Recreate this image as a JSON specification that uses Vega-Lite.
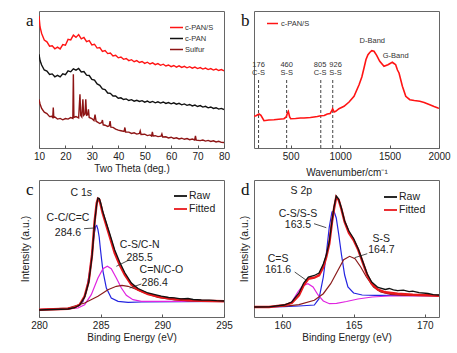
{
"$schema":"https://vega.github.io/schema/vega-lite/v6.json",
"padding":{"left":19,"top":10,"right":0,"bottom":0},
"background":"white",
"config":{
 "view":{"stroke":"#666","strokeWidth":1},
 "font":"Liberation Sans",
 "axis":{"labelFont":"Liberation Sans","titleFont":"Liberation Sans","labelFontSize":10,"titleFontSize":10.5,"titleFontWeight":"normal","grid":false,"domain":false,"tickColor":"#555","labelColor":"#222","titleColor":"#222","labelFlush":false,"labelOverlap":false,"format":"d"},
 "title":{"font":"Liberation Serif","fontSize":17,"fontWeight":"normal","anchor":"start","frame":"group","color":"#111"},
 "legend":{"labelFont":"Liberation Sans","labelColor":"#333","padding":0}
},
"datasets":{
 "xrd":[
  {"s":"c-PAN/S","t":10,"h":132},{"s":"c-PAN/S","t":10.4,"h":121},{"s":"c-PAN/S","t":11,"h":114.5},{"s":"c-PAN/S","t":12,"h":108},{"s":"c-PAN/S","t":13,"h":106.2},{"s":"c-PAN/S","t":14,"h":101.8},{"s":"c-PAN/S","t":15,"h":102.3},{"s":"c-PAN/S","t":16,"h":99.2},{"s":"c-PAN/S","t":17,"h":100.9},{"s":"c-PAN/S","t":18,"h":99.1},{"s":"c-PAN/S","t":19,"h":103.4},{"s":"c-PAN/S","t":20,"h":102.8},{"s":"c-PAN/S","t":21,"h":108.6},{"s":"c-PAN/S","t":22,"h":108.1},{"s":"c-PAN/S","t":23,"h":112.9},{"s":"c-PAN/S","t":24,"h":110.6},{"s":"c-PAN/S","t":25,"h":113.4},{"s":"c-PAN/S","t":26,"h":109.1},{"s":"c-PAN/S","t":27,"h":110.5},{"s":"c-PAN/S","t":28,"h":106.4},{"s":"c-PAN/S","t":29,"h":107.3},{"s":"c-PAN/S","t":30,"h":103.1},{"s":"c-PAN/S","t":31,"h":103.8},{"s":"c-PAN/S","t":32,"h":99.9},{"s":"c-PAN/S","t":33,"h":100.4},{"s":"c-PAN/S","t":34,"h":96.6},{"s":"c-PAN/S","t":35,"h":97.4},{"s":"c-PAN/S","t":36,"h":94.4},{"s":"c-PAN/S","t":37,"h":95.0},{"s":"c-PAN/S","t":38,"h":92.1},{"s":"c-PAN/S","t":39,"h":92.8},{"s":"c-PAN/S","t":40,"h":90.2},{"s":"c-PAN/S","t":41,"h":91.0},{"s":"c-PAN/S","t":42,"h":88.7},{"s":"c-PAN/S","t":43,"h":89.5},{"s":"c-PAN/S","t":44,"h":87.4},{"s":"c-PAN/S","t":45,"h":88.3},{"s":"c-PAN/S","t":46,"h":86.3},{"s":"c-PAN/S","t":47,"h":87.4},{"s":"c-PAN/S","t":48,"h":85.5},{"s":"c-PAN/S","t":49,"h":86.5},{"s":"c-PAN/S","t":50,"h":84.6},{"s":"c-PAN/S","t":51,"h":85.8},{"s":"c-PAN/S","t":52,"h":84.0},{"s":"c-PAN/S","t":53,"h":85.1},{"s":"c-PAN/S","t":54,"h":83.3},{"s":"c-PAN/S","t":55,"h":84.4},{"s":"c-PAN/S","t":56,"h":82.7},{"s":"c-PAN/S","t":57,"h":83.8},{"s":"c-PAN/S","t":58,"h":82.0},{"s":"c-PAN/S","t":59,"h":83.0},{"s":"c-PAN/S","t":60,"h":81.3},{"s":"c-PAN/S","t":61,"h":82.5},{"s":"c-PAN/S","t":62,"h":80.9},{"s":"c-PAN/S","t":63,"h":82.1},{"s":"c-PAN/S","t":64,"h":80.6},{"s":"c-PAN/S","t":65,"h":81.7},{"s":"c-PAN/S","t":66,"h":80.2},{"s":"c-PAN/S","t":67,"h":81.3},{"s":"c-PAN/S","t":68,"h":79.8},{"s":"c-PAN/S","t":69,"h":80.9},{"s":"c-PAN/S","t":70,"h":79.4},{"s":"c-PAN/S","t":71,"h":80.4},{"s":"c-PAN/S","t":72,"h":78.9},{"s":"c-PAN/S","t":73,"h":79.9},{"s":"c-PAN/S","t":74,"h":78.4},{"s":"c-PAN/S","t":75,"h":79.4},{"s":"c-PAN/S","t":76,"h":77.9},{"s":"c-PAN/S","t":77,"h":78.9},{"s":"c-PAN/S","t":78,"h":77.5},{"s":"c-PAN/S","t":79,"h":78.4},{"s":"c-PAN/S","t":80,"h":77.2},
  {"s":"c-PAN","t":10,"h":93.7},{"s":"c-PAN","t":10.4,"h":87.5},{"s":"c-PAN","t":11,"h":83},{"s":"c-PAN","t":12,"h":78},{"s":"c-PAN","t":13,"h":76.9},{"s":"c-PAN","t":14,"h":73.6},{"s":"c-PAN","t":15,"h":74.1},{"s":"c-PAN","t":16,"h":71.2},{"s":"c-PAN","t":17,"h":72.6},{"s":"c-PAN","t":18,"h":71.1},{"s":"c-PAN","t":19,"h":74.2},{"s":"c-PAN","t":20,"h":73.4},{"s":"c-PAN","t":21,"h":77.1},{"s":"c-PAN","t":22,"h":76.2},{"s":"c-PAN","t":23,"h":79.1},{"s":"c-PAN","t":24,"h":77.8},{"s":"c-PAN","t":25,"h":79.5},{"s":"c-PAN","t":26,"h":76.1},{"s":"c-PAN","t":27,"h":76.4},{"s":"c-PAN","t":28,"h":72.8},{"s":"c-PAN","t":29,"h":72.5},{"s":"c-PAN","t":30,"h":68.6},{"s":"c-PAN","t":31,"h":67.8},{"s":"c-PAN","t":32,"h":64.0},{"s":"c-PAN","t":33,"h":62.7},{"s":"c-PAN","t":34,"h":59.1},{"s":"c-PAN","t":35,"h":58.4},{"s":"c-PAN","t":36,"h":55.0},{"s":"c-PAN","t":37,"h":54.7},{"s":"c-PAN","t":38,"h":52.0},{"s":"c-PAN","t":39,"h":52.1},{"s":"c-PAN","t":40,"h":49.7},{"s":"c-PAN","t":41,"h":50.2},{"s":"c-PAN","t":42,"h":48.5},{"s":"c-PAN","t":43,"h":49.1},{"s":"c-PAN","t":44,"h":47.5},{"s":"c-PAN","t":45,"h":48.3},{"s":"c-PAN","t":46,"h":46.8},{"s":"c-PAN","t":47,"h":47.7},{"s":"c-PAN","t":48,"h":46.5},{"s":"c-PAN","t":49,"h":47.3},{"s":"c-PAN","t":50,"h":45.8},{"s":"c-PAN","t":51,"h":46.9},{"s":"c-PAN","t":52,"h":45.5},{"s":"c-PAN","t":53,"h":46.6},{"s":"c-PAN","t":54,"h":45.2},{"s":"c-PAN","t":55,"h":46.2},{"s":"c-PAN","t":56,"h":44.9},{"s":"c-PAN","t":57,"h":46.0},{"s":"c-PAN","t":58,"h":44.6},{"s":"c-PAN","t":59,"h":45.5},{"s":"c-PAN","t":60,"h":44.2},{"s":"c-PAN","t":61,"h":45.2},{"s":"c-PAN","t":62,"h":43.8},{"s":"c-PAN","t":63,"h":44.7},{"s":"c-PAN","t":64,"h":43.2},{"s":"c-PAN","t":65,"h":44.1},{"s":"c-PAN","t":66,"h":42.7},{"s":"c-PAN","t":67,"h":43.5},{"s":"c-PAN","t":68,"h":42.1},{"s":"c-PAN","t":69,"h":42.9},{"s":"c-PAN","t":70,"h":41.5},{"s":"c-PAN","t":71,"h":42.4},{"s":"c-PAN","t":72,"h":40.9},{"s":"c-PAN","t":73,"h":41.7},{"s":"c-PAN","t":74,"h":40.2},{"s":"c-PAN","t":75,"h":41.0},{"s":"c-PAN","t":76,"h":39.6},{"s":"c-PAN","t":77,"h":40.3},{"s":"c-PAN","t":78,"h":38.9},{"s":"c-PAN","t":79,"h":39.6},{"s":"c-PAN","t":80,"h":38.4},
  {"s":"Sulfur","t":10,"h":48.7},{"s":"Sulfur","t":10.4,"h":44},{"s":"Sulfur","t":11,"h":39.5},{"s":"Sulfur","t":12,"h":35.8},{"s":"Sulfur","t":13,"h":34.5},{"s":"Sulfur","t":14,"h":31.4},{"s":"Sulfur","t":14.8,"h":31.8},{"s":"Sulfur","t":15.2,"h":30.5},{"s":"Sulfur","t":15.4,"h":40.5},{"s":"Sulfur","t":15.6,"h":30.8},{"s":"Sulfur","t":16,"h":31.0},{"s":"Sulfur","t":17,"h":28.9},{"s":"Sulfur","t":18,"h":29.6},{"s":"Sulfur","t":19,"h":28.2},{"s":"Sulfur","t":20,"h":29.5},{"s":"Sulfur","t":21,"h":28.9},{"s":"Sulfur","t":22,"h":30.4},{"s":"Sulfur","t":22.8,"h":29.6},{"s":"Sulfur","t":23.0,"h":73.7},{"s":"Sulfur","t":23.2,"h":30.6},{"s":"Sulfur","t":24,"h":31.5},{"s":"Sulfur","t":25,"h":30.2},{"s":"Sulfur","t":25.5,"h":53.7},{"s":"Sulfur","t":25.8,"h":32.5},{"s":"Sulfur","t":26.2,"h":31.0},{"s":"Sulfur","t":26.6,"h":48.7},{"s":"Sulfur","t":26.9,"h":32.6},{"s":"Sulfur","t":27.4,"h":34.0},{"s":"Sulfur","t":27.7,"h":48.7},{"s":"Sulfur","t":28.0,"h":32.8},{"s":"Sulfur","t":28.4,"h":33.2},{"s":"Sulfur","t":28.7,"h":38.7},{"s":"Sulfur","t":29.0,"h":30.5},{"s":"Sulfur","t":30,"h":29.5},{"s":"Sulfur","t":30.8,"h":27.5},{"s":"Sulfur","t":31.2,"h":33.5},{"s":"Sulfur","t":31.6,"h":26.8},{"s":"Sulfur","t":32,"h":26.2},{"s":"Sulfur","t":33,"h":24.5},{"s":"Sulfur","t":33.7,"h":25.4},{"s":"Sulfur","t":34.0,"h":28.0},{"s":"Sulfur","t":34.3,"h":23.2},{"s":"Sulfur","t":35,"h":22.8},{"s":"Sulfur","t":36,"h":21.5},{"s":"Sulfur","t":36.6,"h":22.3},{"s":"Sulfur","t":36.9,"h":27.0},{"s":"Sulfur","t":37.2,"h":20.8},{"s":"Sulfur","t":38,"h":20.6},{"s":"Sulfur","t":39,"h":18.9},{"s":"Sulfur","t":40,"h":17.8},{"s":"Sulfur","t":41,"h":17.2},{"s":"Sulfur","t":42.2,"h":16.5},{"s":"Sulfur","t":42.5,"h":20.5},{"s":"Sulfur","t":42.8,"h":16.0},{"s":"Sulfur","t":44,"h":15.9},{"s":"Sulfur","t":45,"h":14.6},{"s":"Sulfur","t":46,"h":15.2},{"s":"Sulfur","t":47,"h":13.9},{"s":"Sulfur","t":48,"h":14.5},{"s":"Sulfur","t":48.3,"h":17.0},{"s":"Sulfur","t":48.6,"h":13.6},{"s":"Sulfur","t":50,"h":13.8},{"s":"Sulfur","t":51,"h":12.4},{"s":"Sulfur","t":52,"h":13.1},{"s":"Sulfur","t":52.6,"h":12.0},{"s":"Sulfur","t":52.9,"h":16.0},{"s":"Sulfur","t":53.2,"h":12.1},{"s":"Sulfur","t":54,"h":12.3},{"s":"Sulfur","t":55,"h":11.4},{"s":"Sulfur","t":56.2,"h":11.9},{"s":"Sulfur","t":56.5,"h":14.0},{"s":"Sulfur","t":56.8,"h":11.0},{"s":"Sulfur","t":58,"h":11.2},{"s":"Sulfur","t":59,"h":10.1},{"s":"Sulfur","t":60,"h":10.8},{"s":"Sulfur","t":61,"h":9.6},{"s":"Sulfur","t":62,"h":10.2},{"s":"Sulfur","t":63,"h":9.1},{"s":"Sulfur","t":64,"h":9.8},{"s":"Sulfur","t":65,"h":8.7},{"s":"Sulfur","t":66,"h":9.4},{"s":"Sulfur","t":67,"h":8.3},{"s":"Sulfur","t":68,"h":9.0},{"s":"Sulfur","t":68.9,"h":8.0},{"s":"Sulfur","t":69.2,"h":12.0},{"s":"Sulfur","t":69.5,"h":7.9},{"s":"Sulfur","t":71,"h":7.4},{"s":"Sulfur","t":72,"h":8.0},{"s":"Sulfur","t":73,"h":6.9},{"s":"Sulfur","t":74,"h":7.6},{"s":"Sulfur","t":75,"h":6.6},{"s":"Sulfur","t":76,"h":7.2},{"s":"Sulfur","t":77,"h":6.1},{"s":"Sulfur","t":78,"h":6.7},{"s":"Sulfur","t":79,"h":5.6},{"s":"Sulfur","t":80,"h":5.5}
 ],
 "raman":[
  {"s":"c-PAN/S","w":130,"h":31.7},{"s":"c-PAN/S","w":150,"h":32.3},{"s":"c-PAN/S","w":181,"h":34},{"s":"c-PAN/S","w":200,"h":32.7},{"s":"c-PAN/S","w":231,"h":27.3},{"s":"c-PAN/S","w":280,"h":28.0},{"s":"c-PAN/S","w":332,"h":28.3},{"s":"c-PAN/S","w":380,"h":28.8},{"s":"c-PAN/S","w":433,"h":29.3},{"s":"c-PAN/S","w":455,"h":31},{"s":"c-PAN/S","w":470,"h":35.5},{"s":"c-PAN/S","w":477,"h":36.7},{"s":"c-PAN/S","w":490,"h":31},{"s":"c-PAN/S","w":501,"h":29.3},{"s":"c-PAN/S","w":550,"h":29.5},{"s":"c-PAN/S","w":600,"h":30},{"s":"c-PAN/S","w":636,"h":30},{"s":"c-PAN/S","w":700,"h":30.5},{"s":"c-PAN/S","w":737,"h":31},{"s":"c-PAN/S","w":770,"h":31.5},{"s":"c-PAN/S","w":804,"h":32.3},{"s":"c-PAN/S","w":840,"h":32.5},{"s":"c-PAN/S","w":871,"h":34},{"s":"c-PAN/S","w":900,"h":34.5},{"s":"c-PAN/S","w":915,"h":37},{"s":"c-PAN/S","w":925,"h":39.3},{"s":"c-PAN/S","w":940,"h":36},{"s":"c-PAN/S","w":956,"h":36.7},{"s":"c-PAN/S","w":989,"h":39.3},{"s":"c-PAN/S","w":1040,"h":41.7},{"s":"c-PAN/S","w":1091,"h":46},{"s":"c-PAN/S","w":1141,"h":51.7},{"s":"c-PAN/S","w":1192,"h":63.3},{"s":"c-PAN/S","w":1220,"h":71},{"s":"c-PAN/S","w":1242,"h":80},{"s":"c-PAN/S","w":1262,"h":88.5},{"s":"c-PAN/S","w":1282,"h":93.3},{"s":"c-PAN/S","w":1300,"h":95.5},{"s":"c-PAN/S","w":1320,"h":97.3},{"s":"c-PAN/S","w":1343,"h":96.7},{"s":"c-PAN/S","w":1370,"h":92.7},{"s":"c-PAN/S","w":1401,"h":86.7},{"s":"c-PAN/S","w":1444,"h":81.7},{"s":"c-PAN/S","w":1484,"h":83.3},{"s":"c-PAN/S","w":1510,"h":84.8},{"s":"c-PAN/S","w":1528,"h":85.7},{"s":"c-PAN/S","w":1545,"h":84.5},{"s":"c-PAN/S","w":1562,"h":83.3},{"s":"c-PAN/S","w":1580,"h":78},{"s":"c-PAN/S","w":1596,"h":75},{"s":"c-PAN/S","w":1630,"h":61.7},{"s":"c-PAN/S","w":1664,"h":51.7},{"s":"c-PAN/S","w":1705,"h":48.3},{"s":"c-PAN/S","w":1750,"h":47.5},{"s":"c-PAN/S","w":1806,"h":46.7},{"s":"c-PAN/S","w":1850,"h":45.5},{"s":"c-PAN/S","w":1907,"h":43.3},{"s":"c-PAN/S","w":1950,"h":41.5},{"s":"c-PAN/S","w":1990,"h":40},{"s":"c-PAN/S","w":2000,"h":39.7}
 ],
 "ramanpk":[
  {"w":176,"lw":176,"n":"176","b":"C-S","top":68,"ny":83,"by":75},
  {"w":460,"lw":460,"n":"460","b":"S-S","top":68,"ny":83,"by":75},
  {"w":805,"lw":798,"n":"805","b":"C-S","top":68,"ny":83,"by":75},
  {"w":926,"lw":955,"n":"926","b":"S-S","top":68,"ny":83,"by":75}
 ],
 "ramanband":[
  {"w":1326,"h":107,"t":"D-Band"},{"w":1562,"h":92,"t":"G-Band"}
 ],
 "c1s":[
  {"s":"Fitted","e":280,"h":7.3},{"s":"Fitted","e":282.35,"h":8.3},{"s":"Fitted","e":282.89,"h":9.7},{"s":"Fitted","e":283.3,"h":12.3},{"s":"Fitted","e":283.7,"h":20.7},{"s":"Fitted","e":284.03,"h":35.7},{"s":"Fitted","e":284.3,"h":62.3},{"s":"Fitted","e":284.51,"h":95.7},{"s":"Fitted","e":284.68,"h":114},{"s":"Fitted","e":284.78,"h":118.3},{"s":"Fitted","e":284.89,"h":117.3},{"s":"Fitted","e":285.0,"h":112.3},{"s":"Fitted","e":285.16,"h":104},{"s":"Fitted","e":285.32,"h":97.3},{"s":"Fitted","e":285.73,"h":80.7},{"s":"Fitted","e":286.14,"h":64},{"s":"Fitted","e":286.54,"h":52.3},{"s":"Fitted","e":286.95,"h":42.3},{"s":"Fitted","e":287.49,"h":32.3},{"s":"Fitted","e":288.03,"h":27.3},{"s":"Fitted","e":288.84,"h":23},{"s":"Fitted","e":289.92,"h":19.7},{"s":"Fitted","e":291.0,"h":18},{"s":"Fitted","e":292.08,"h":17},{"s":"Fitted","e":293.16,"h":16.3},{"s":"Fitted","e":295,"h":15.7},
  {"s":"Raw","e":280,"h":7.0},{"s":"Raw","e":282.35,"h":8.0},{"s":"Raw","e":282.89,"h":9.3},{"s":"Raw","e":283.3,"h":12.0},{"s":"Raw","e":283.7,"h":20.0},{"s":"Raw","e":284.03,"h":34.5},{"s":"Raw","e":284.3,"h":60.5},{"s":"Raw","e":284.51,"h":94},{"s":"Raw","e":284.68,"h":113},{"s":"Raw","e":284.78,"h":119},{"s":"Raw","e":284.89,"h":118.5},{"s":"Raw","e":285.0,"h":114},{"s":"Raw","e":285.16,"h":106},{"s":"Raw","e":285.32,"h":99.5},{"s":"Raw","e":285.73,"h":83.5},{"s":"Raw","e":286.14,"h":67},{"s":"Raw","e":286.54,"h":55},{"s":"Raw","e":286.95,"h":44.5},{"s":"Raw","e":287.49,"h":34},{"s":"Raw","e":288.03,"h":28.5},{"s":"Raw","e":288.84,"h":24},{"s":"Raw","e":289.4,"h":22.3},{"s":"Raw","e":289.92,"h":20.8},{"s":"Raw","e":290.5,"h":19.5},{"s":"Raw","e":291.0,"h":19.2},{"s":"Raw","e":291.5,"h":18.2},{"s":"Raw","e":292.08,"h":18.5},{"s":"Raw","e":292.5,"h":17.5},{"s":"Raw","e":293.16,"h":17.0},{"s":"Raw","e":293.8,"h":16.8},{"s":"Raw","e":294.4,"h":16.3},{"s":"Raw","e":295,"h":16.0},
  {"s":"CC","e":280,"h":7.3},{"s":"CC","e":282.35,"h":8.0},{"s":"CC","e":283.16,"h":10.7},{"s":"CC","e":283.57,"h":15.7},{"s":"CC","e":283.84,"h":25.7},{"s":"CC","e":284.11,"h":45.7},{"s":"CC","e":284.25,"h":58},{"s":"CC","e":284.38,"h":72.3},{"s":"CC","e":284.48,"h":83},{"s":"CC","e":284.59,"h":90.7},{"s":"CC","e":284.68,"h":91.5},{"s":"CC","e":284.78,"h":87.3},{"s":"CC","e":284.88,"h":80},{"s":"CC","e":284.97,"h":69},{"s":"CC","e":285.08,"h":57},{"s":"CC","e":285.19,"h":45.7},{"s":"CC","e":285.46,"h":29},{"s":"CC","e":285.86,"h":19},{"s":"CC","e":286.41,"h":15.7},{"s":"CC","e":287.22,"h":14.7},{"s":"CC","e":288.3,"h":15.0},{"s":"CC","e":295,"h":15.7},
  {"s":"CS","e":280,"h":7.3},{"s":"CS","e":282.35,"h":8.0},{"s":"CS","e":283.16,"h":9.0},{"s":"CS","e":283.7,"h":12.3},{"s":"CS","e":284.24,"h":22.3},{"s":"CS","e":284.78,"h":39},{"s":"CS","e":285.19,"h":48.3},{"s":"CS","e":285.54,"h":50.7},{"s":"CS","e":285.86,"h":48.3},{"s":"CS","e":286.27,"h":39},{"s":"CS","e":286.68,"h":29},{"s":"CS","e":287.08,"h":21.7},{"s":"CS","e":287.62,"h":17.3},{"s":"CS","e":288.3,"h":15.7},{"s":"CS","e":295,"h":15.7},
  {"s":"CN","e":280,"h":7.3},{"s":"CN","e":282.35,"h":9.0},{"s":"CN","e":283.7,"h":14.0},{"s":"CN","e":284.78,"h":20.7},{"s":"CN","e":285.59,"h":27.3},{"s":"CN","e":286.27,"h":30.7},{"s":"CN","e":286.73,"h":31.7},{"s":"CN","e":287.22,"h":30.7},{"s":"CN","e":287.76,"h":28.3},{"s":"CN","e":288.57,"h":24},{"s":"CN","e":289.65,"h":19.7},{"s":"CN","e":291.0,"h":17},{"s":"CN","e":292.08,"h":16},{"s":"CN","e":295,"h":15.7}
 ],
 "c1slab":[
  {"e":283.43,"h":124,"t":"C 1s"},{"e":282.35,"h":99,"t":"C-C/C=C"},{"e":282.35,"h":84,"t":"284.6"},{"e":288.16,"h":72.3,"t":"C-S/C-N"},{"e":288.16,"h":59,"t":"285.5"},{"e":289.92,"h":47.3,"t":"C=N/C-O"},{"e":289.38,"h":34,"t":"286.4"}
 ],
 "c1sptr":[
  {"e":283.65,"h":88.3,"e2":284.46,"h2":89},{"e":287.35,"h":57.3,"e2":286.27,"h2":50.7},{"e":288.3,"h":33,"e2":287.35,"h2":29}
 ],
 "s2p":[
  {"s":"Fitted","e":158,"h":10},{"s":"Fitted","e":159.05,"h":10},{"s":"Fitted","e":160.11,"h":11.7},{"s":"Fitted","e":160.65,"h":14},{"s":"Fitted","e":161.16,"h":21.7},{"s":"Fitted","e":161.49,"h":31.7},{"s":"Fitted","e":161.82,"h":38.3},{"s":"Fitted","e":162.24,"h":39.3},{"s":"Fitted","e":162.57,"h":41.7},{"s":"Fitted","e":162.87,"h":50},{"s":"Fitted","e":163.08,"h":60},{"s":"Fitted","e":163.29,"h":73.3},{"s":"Fitted","e":163.48,"h":95},{"s":"Fitted","e":163.62,"h":108},{"s":"Fitted","e":163.78,"h":120},{"s":"Fitted","e":163.95,"h":117},{"s":"Fitted","e":164.14,"h":108},{"s":"Fitted","e":164.37,"h":95},{"s":"Fitted","e":164.67,"h":84},{"s":"Fitted","e":165.0,"h":77},{"s":"Fitted","e":165.33,"h":67},{"s":"Fitted","e":165.63,"h":55},{"s":"Fitted","e":165.96,"h":41.7},{"s":"Fitted","e":166.27,"h":33.3},{"s":"Fitted","e":166.71,"h":27.3},{"s":"Fitted","e":167.23,"h":24.7},{"s":"Fitted","e":168.09,"h":23.3},{"s":"Fitted","e":169.15,"h":22.3},{"s":"Fitted","e":170.22,"h":21.7},{"s":"Fitted","e":171,"h":21.3},
  {"s":"Raw","e":158,"h":10},{"s":"Raw","e":159.05,"h":10.2},{"s":"Raw","e":160.11,"h":12},{"s":"Raw","e":160.65,"h":15},{"s":"Raw","e":161.16,"h":24},{"s":"Raw","e":161.49,"h":34},{"s":"Raw","e":161.82,"h":40},{"s":"Raw","e":162.24,"h":41.5},{"s":"Raw","e":162.57,"h":44},{"s":"Raw","e":162.87,"h":53},{"s":"Raw","e":163.08,"h":62},{"s":"Raw","e":163.29,"h":75},{"s":"Raw","e":163.48,"h":96},{"s":"Raw","e":163.62,"h":110},{"s":"Raw","e":163.78,"h":121},{"s":"Raw","e":163.95,"h":118},{"s":"Raw","e":164.14,"h":109},{"s":"Raw","e":164.37,"h":96},{"s":"Raw","e":164.67,"h":86},{"s":"Raw","e":165.0,"h":78.5},{"s":"Raw","e":165.33,"h":68},{"s":"Raw","e":165.63,"h":56},{"s":"Raw","e":165.96,"h":43},{"s":"Raw","e":166.27,"h":35},{"s":"Raw","e":166.71,"h":29.5},{"s":"Raw","e":167.23,"h":27.5},{"s":"Raw","e":167.5,"h":28.5},{"s":"Raw","e":167.8,"h":27.2},{"s":"Raw","e":168.09,"h":26.3},{"s":"Raw","e":168.5,"h":26.8},{"s":"Raw","e":168.9,"h":25.3},{"s":"Raw","e":169.15,"h":25.8},{"s":"Raw","e":169.6,"h":24.3},{"s":"Raw","e":170.22,"h":23.5},{"s":"Raw","e":170.6,"h":22.4},{"s":"Raw","e":171,"h":22},
  {"s":"CSS","e":158,"h":10},{"s":"CSS","e":160.1,"h":10.3},{"s":"CSS","e":161.16,"h":11},{"s":"CSS","e":162.24,"h":12},{"s":"CSS","e":162.57,"h":18.3},{"s":"CSS","e":162.87,"h":40},{"s":"CSS","e":163.08,"h":63},{"s":"CSS","e":163.29,"h":90},{"s":"CSS","e":163.48,"h":105},{"s":"CSS","e":163.62,"h":106},{"s":"CSS","e":163.78,"h":99},{"s":"CSS","e":163.95,"h":83},{"s":"CSS","e":164.14,"h":63},{"s":"CSS","e":164.37,"h":42},{"s":"CSS","e":164.6,"h":30},{"s":"CSS","e":165.0,"h":24},{"s":"CSS","e":165.6,"h":22},{"s":"CSS","e":166.5,"h":21.7},{"s":"CSS","e":171,"h":21.3},
  {"s":"CeqS","e":158,"h":10},{"s":"CeqS","e":160.1,"h":10.7},{"s":"CeqS","e":160.65,"h":15},{"s":"CeqS","e":161.08,"h":25},{"s":"CeqS","e":161.4,"h":31},{"s":"CeqS","e":161.79,"h":33.3},{"s":"CeqS","e":162.15,"h":30},{"s":"CeqS","e":162.5,"h":22},{"s":"CeqS","e":162.87,"h":16},{"s":"CeqS","e":163.3,"h":13.3},{"s":"CeqS","e":163.8,"h":13.7},{"s":"CeqS","e":164.5,"h":15.5},{"s":"CeqS","e":165.3,"h":18},{"s":"CeqS","e":166.3,"h":20},{"s":"CeqS","e":167.5,"h":21},{"s":"CeqS","e":171,"h":21.3},
  {"s":"SS","e":158,"h":10},{"s":"SS","e":160.1,"h":10.7},{"s":"SS","e":161.16,"h":12.3},{"s":"SS","e":162.24,"h":16.7},{"s":"SS","e":162.87,"h":23.3},{"s":"SS","e":163.39,"h":33.3},{"s":"SS","e":163.9,"h":46.7},{"s":"SS","e":164.3,"h":57.3},{"s":"SS","e":164.72,"h":60.7},{"s":"SS","e":165.1,"h":58.3},{"s":"SS","e":165.5,"h":50},{"s":"SS","e":165.9,"h":40},{"s":"SS","e":166.4,"h":30},{"s":"SS","e":166.9,"h":25},{"s":"SS","e":167.6,"h":22.7},{"s":"SS","e":168.6,"h":21.7},{"s":"SS","e":171,"h":21.3}
 ],
 "s2plab":[
  {"e":161.33,"h":126,"t":"S 2p"},{"e":161.09,"h":103.3,"t":"C-S/S-S"},{"e":161.09,"h":91.7,"t":"163.5"},{"e":166.95,"h":78.3,"t":"S-S"},{"e":166.95,"h":66.7,"t":"164.7"},{"e":159.69,"h":58.3,"t":"C=S"},{"e":159.69,"h":46.7,"t":"161.6"}
 ],
 "s2pptr":[
  {"e":162.22,"h":93.3,"e2":163.08,"h2":89.3},{"e":165.96,"h":63.3,"e2":165.07,"h2":59.3},{"e":160.86,"h":45,"e2":161.68,"h2":36.7}
 ]
},
"columns":2,
"bounds":"flush",
"spacing":{"row":32,"column":30},
"resolve":{"scale":{"x":"independent","y":"independent","color":"independent"}},
"concat":[
 {
  "width":185,"height":137,
  "title":{"text":"a","dx":-13,"offset":-19},
  "data":{"name":"xrd"},
  "mark":{"type":"line","strokeWidth":1.4,"clip":true},
  "encoding":{
   "x":{"field":"t","type":"quantitative","scale":{"domain":[10,80],"nice":false,"zero":false},"axis":{"values":[10,20,30,40,50,60,70,80],"title":"Two Theta (deg.)","tickSize":-3,"labelPadding":6,"titlePadding":2,"titleFontSize":10}},
   "y":{"field":"h","type":"quantitative","scale":{"domain":[0,137],"nice":false},"axis":null},
   "color":{"field":"s","type":"nominal","scale":{"domain":["c-PAN/S","c-PAN","Sulfur"],"range":["#ff1414","#111111","#8e1515"]},
    "legend":{"orient":"none","legendX":130,"legendY":9,"direction":"vertical","title":null,"symbolType":"stroke","symbolSize":169,"symbolStrokeWidth":1.5,"labelFontSize":7.5,"rowPadding":-3,"labelOffset":1}}
  }
 },
 {
  "width":185,"height":137,
  "title":{"text":"b","dx":-13,"offset":-19},
  "layer":[
   {"data":{"name":"ramanpk"},"mark":{"type":"rule","strokeDash":[3,2],"color":"#444","strokeWidth":1},
    "encoding":{"x":{"field":"w","type":"quantitative","scale":{"domain":[130,2000],"nice":false,"zero":false},"axis":{"values":[500,1000,1500,2000],"title":"Wavenumber/cm⁻¹","tickSize":-3,"labelPadding":6,"titlePadding":6,"titleFontSize":10}},
     "y":{"field":"top","type":"quantitative","scale":{"domain":[0,137],"nice":false},"axis":null},"y2":{"datum":0}}},
   {"data":{"name":"ramanpk"},"mark":{"type":"text","fontSize":7.5,"color":"#333"},
    "encoding":{"x":{"field":"lw","type":"quantitative"},"y":{"field":"ny","type":"quantitative"},"text":{"field":"n"}}},
   {"data":{"name":"ramanpk"},"mark":{"type":"text","fontSize":7.5,"color":"#333"},
    "encoding":{"x":{"field":"lw","type":"quantitative"},"y":{"field":"by","type":"quantitative"},"text":{"field":"b"}}},
   {"data":{"name":"ramanband"},"mark":{"type":"text","fontSize":7.5,"color":"#333"},
    "encoding":{"x":{"field":"w","type":"quantitative"},"y":{"field":"h","type":"quantitative"},"text":{"field":"t"}}},
   {"data":{"name":"raman"},"mark":{"type":"line","strokeWidth":1.6,"clip":true},
    "encoding":{"x":{"field":"w","type":"quantitative"},"y":{"field":"h","type":"quantitative"},
     "color":{"field":"s","type":"nominal","scale":{"domain":["c-PAN/S"],"range":["#ff1414"]},
      "legend":{"orient":"none","legendX":12,"legendY":6,"direction":"vertical","title":null,"symbolType":"stroke","symbolSize":121,"symbolStrokeWidth":1.5,"labelFontSize":7.5,"labelOffset":2}}}}
  ]
 },
 {
  "width":185,"height":137,
  "title":{"text":"c","dx":-13,"offset":-19},
  "layer":[
   {"data":{"name":"c1s"},"transform":[{"filter":{"field":"s","oneOf":["CC","CS","CN"]}}],"mark":{"type":"line","strokeWidth":1.2,"clip":true},
    "encoding":{"x":{"field":"e","type":"quantitative","scale":{"domain":[280,295],"nice":false,"zero":false},"axis":{"values":[280,285,290,295],"title":"Binding Energy (eV)","tickSize":-3,"labelPadding":6,"titlePadding":2,"titleFontSize":10}},
     "y":{"field":"h","type":"quantitative","scale":{"domain":[0,137],"nice":false},"axis":{"title":"Intensity (a.u.)","labels":false,"ticks":false,"domain":false,"minExtent":0,"titlePadding":9}},
     "color":{"field":"s","type":"nominal","scale":{"domain":["Raw","Fitted","CC","CS","CN"],"range":["#111111","#e8181c","#2424e0","#e024e0","#8b1c1c"]},
      "legend":{"values":["Raw","Fitted"],"orient":"none","legendX":134,"legendY":8.5,"direction":"vertical","title":null,"symbolType":"stroke","symbolSize":169,"symbolStrokeWidth":1.8,"labelFontSize":10.5,"rowPadding":0,"labelOffset":1,"labelColor":"#222"}}}},
   {"data":{"name":"c1s"},"transform":[{"filter":{"field":"s","equal":"Fitted"}}],"mark":{"type":"line","strokeWidth":2.4,"clip":true},
    "encoding":{"x":{"field":"e","type":"quantitative"},"y":{"field":"h","type":"quantitative"},"color":{"field":"s","type":"nominal"}}},
   {"data":{"name":"c1s"},"transform":[{"filter":{"field":"s","equal":"Raw"}}],"mark":{"type":"line","strokeWidth":1.3,"clip":true},
    "encoding":{"x":{"field":"e","type":"quantitative"},"y":{"field":"h","type":"quantitative"},"color":{"field":"s","type":"nominal"}}},
   {"data":{"name":"c1sptr"},"mark":{"type":"rule","color":"#222","strokeWidth":0.8},
    "encoding":{"x":{"field":"e","type":"quantitative"},"y":{"field":"h","type":"quantitative"},"x2":{"field":"e2"},"y2":{"field":"h2"}}},
   {"data":{"name":"c1slab"},"mark":{"type":"text","fontSize":10.5,"color":"#222"},
    "encoding":{"x":{"field":"e","type":"quantitative"},"y":{"field":"h","type":"quantitative"},"text":{"field":"t"}}}
  ]
 },
 {
  "width":185,"height":137,
  "title":{"text":"d","dx":-13,"offset":-19},
  "layer":[
   {"data":{"name":"s2p"},"transform":[{"filter":{"field":"s","oneOf":["CSS","CeqS","SS"]}}],"mark":{"type":"line","strokeWidth":1.2,"clip":true},
    "encoding":{"x":{"field":"e","type":"quantitative","scale":{"domain":[158,171],"nice":false,"zero":false},"axis":{"values":[160,165,170],"title":"Binding Energy (eV)","tickSize":-3,"labelPadding":6,"titlePadding":2,"titleFontSize":10}},
     "y":{"field":"h","type":"quantitative","scale":{"domain":[0,137],"nice":false},"axis":{"title":"Intensity (a.u.)","labels":false,"ticks":false,"domain":false,"minExtent":0,"titlePadding":5}},
     "color":{"field":"s","type":"nominal","scale":{"domain":["Raw","Fitted","CSS","CeqS","SS"],"range":["#111111","#e8181c","#2424e0","#e024e0","#8b1c1c"]},
      "legend":{"values":["Raw","Fitted"],"orient":"none","legendX":129,"legendY":9.5,"direction":"vertical","title":null,"symbolType":"stroke","symbolSize":169,"symbolStrokeWidth":1.8,"labelFontSize":10.5,"rowPadding":0,"labelOffset":1,"labelColor":"#222"}}}},
   {"data":{"name":"s2p"},"transform":[{"filter":{"field":"s","equal":"Fitted"}}],"mark":{"type":"line","strokeWidth":2.4,"clip":true},
    "encoding":{"x":{"field":"e","type":"quantitative"},"y":{"field":"h","type":"quantitative"},"color":{"field":"s","type":"nominal"}}},
   {"data":{"name":"s2p"},"transform":[{"filter":{"field":"s","equal":"Raw"}}],"mark":{"type":"line","strokeWidth":1.3,"clip":true},
    "encoding":{"x":{"field":"e","type":"quantitative"},"y":{"field":"h","type":"quantitative"},"color":{"field":"s","type":"nominal"}}},
   {"data":{"name":"s2pptr"},"mark":{"type":"rule","color":"#222","strokeWidth":0.8},
    "encoding":{"x":{"field":"e","type":"quantitative"},"y":{"field":"h","type":"quantitative"},"x2":{"field":"e2"},"y2":{"field":"h2"}}},
   {"data":{"name":"s2plab"},"mark":{"type":"text","fontSize":10.5,"color":"#222"},
    "encoding":{"x":{"field":"e","type":"quantitative"},"y":{"field":"h","type":"quantitative"},"text":{"field":"t"}}}
  ]
 }
]
}
